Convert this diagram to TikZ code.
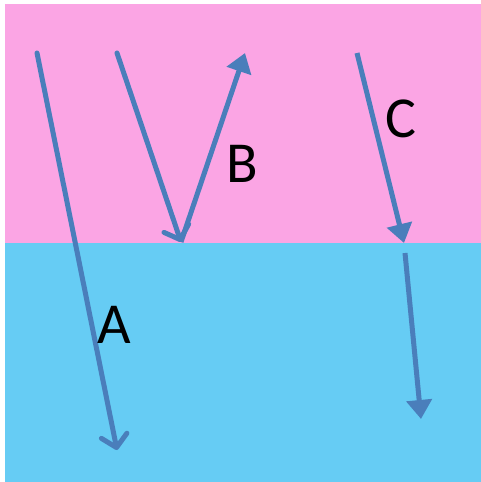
\documentclass[tikz,border=0pt]{standalone}
\usepackage{fontspec}
\setmainfont{Carlito}
\usetikzlibrary{arrows.meta}
\definecolor{pinkbg}{HTML}{FBA5E4}
\definecolor{bluebg}{HTML}{66CCF4}
\definecolor{ray}{HTML}{4A7EBB}
\begin{document}
\begin{tikzpicture}[x=1pt,y=-1pt,
  raybase/.style={draw=ray,line width=5pt},
  openray/.style={raybase,line cap=round,-{Straight Barb[length=12pt,width=26pt,line width=5pt,round]}},
  fillray/.style={raybase,-{Triangle[length=19pt,width=25pt]}},
  lbl/.style={font=\fontsize{58}{62}\selectfont,text=black,inner sep=0pt}]
\useasboundingbox (0,0) rectangle (481,482);
\fill[pinkbg] (5,4) rectangle (481,243);
\fill[bluebg] (5,243) rectangle (481,482);
\coordinate (a0) at (37,53);
\coordinate (a1) at (117,450);
\coordinate (b0) at (117,53);
\coordinate (b1) at (181,242);
\coordinate (b2) at (245,53);
\coordinate (c0) at (357,53);
\coordinate (c1) at (404,243);
\coordinate (c2) at (405,253);
\coordinate (c3) at (421,419);
\draw[openray] (a0) -- (a1);
\draw[openray] (b0) -- (b1);
\draw[fillray] (b1) -- (b2);
\draw[fillray] (c0) -- (c1);
\draw[fillray] (c2) -- (c3);
\node[lbl] (la) at (114,325) {A};
\node[lbl] (lb) at (242,164) {B};
\node[lbl] (lc) at (401,119) {C};
\end{tikzpicture}
\end{document}
